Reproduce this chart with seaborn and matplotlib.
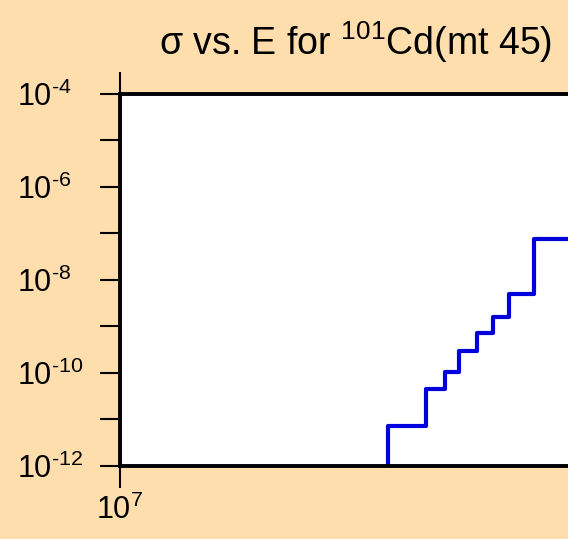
import matplotlib
matplotlib.use("Agg")
import matplotlib.pyplot as plt
import seaborn as sns
import pandas as pd

# step edges (eV) and cross-section values
energy = [3.69e7, 4.44e7, 4.88e7, 5.23e7, 5.72e7, 6.18e7, 6.67e7, 7.52e7]
sigma = [7.2e-12, 4.5e-11, 1.05e-10, 2.9e-10, 7.4e-10, 1.6e-9, 5.0e-9, 7.6e-8]
y_floor = 1e-12
x_end = 1e8

y_exponents = list(range(-12, -3))
x_tick_vals = [1e7]
x_tick_labels = [r"$10^{7}$"]

sns.set_theme(style="ticks")
plt.rcParams["font.family"] = ["Liberation Sans", "DejaVu Sans"]
plt.rcParams["mathtext.fontset"] = "custom"
plt.rcParams["mathtext.rm"] = "Liberation Sans"
plt.rcParams["mathtext.it"] = "Liberation Sans:italic"
plt.rcParams["mathtext.bf"] = "Liberation Sans:bold"
plt.rcParams["text.color"] = "black"

df = pd.DataFrame({
    "E": [energy[0]] + energy + [x_end],
    "sigma": [y_floor] + sigma + [sigma[-1]],
})

fig = plt.figure(figsize=(5.68, 5.39), dpi=100, facecolor="#FFDEAD")
ax = fig.add_axes([120 / 568, 73 / 539, 472 / 568, 372 / 539])
ax.set_facecolor("white")

sns.lineplot(data=df, x="E", y="sigma", ax=ax, drawstyle="steps-post",
             sort=False, estimator=None, color="#0000DD", linewidth=3)

ax.set_xscale("log")
ax.set_yscale("log")
ax.set_xlim(1e7, x_end)
ax.set_ylim(1e-12, 1e-4)

ax.set_yticks([10.0 ** e for e in y_exponents],
              [r"$10^{\text{-}%d}$" % (-e) if e % 2 == 0 else "" for e in y_exponents])
ax.set_xticks(x_tick_vals, x_tick_labels)
ax.minorticks_off()

ax.tick_params(axis="y", direction="out", length=14.5, width=1.5, pad=60,
               labelsize=22, colors="black")
ax.tick_params(axis="x", direction="out", length=15.5, width=1.5, pad=5,
               labelsize=22, colors="black", top=True)
for lab in ax.get_yticklabels():
    lab.set_horizontalalignment("left")
    lab.set_verticalalignment("center_baseline")

for side in ["left", "bottom", "top"]:
    ax.spines[side].set_linewidth(2.8)
    ax.spines[side].set_color("black")
ax.spines["right"].set_visible(False)

ax.set_xlabel("")
ax.set_ylabel("")
ax.set_title(r"σ vs. E for $^{101}$Cd(mt 45)", fontsize=27, y=1.0, pad=28,
             color="black")

fig.savefig("out.png", dpi=100, facecolor=fig.get_facecolor())
